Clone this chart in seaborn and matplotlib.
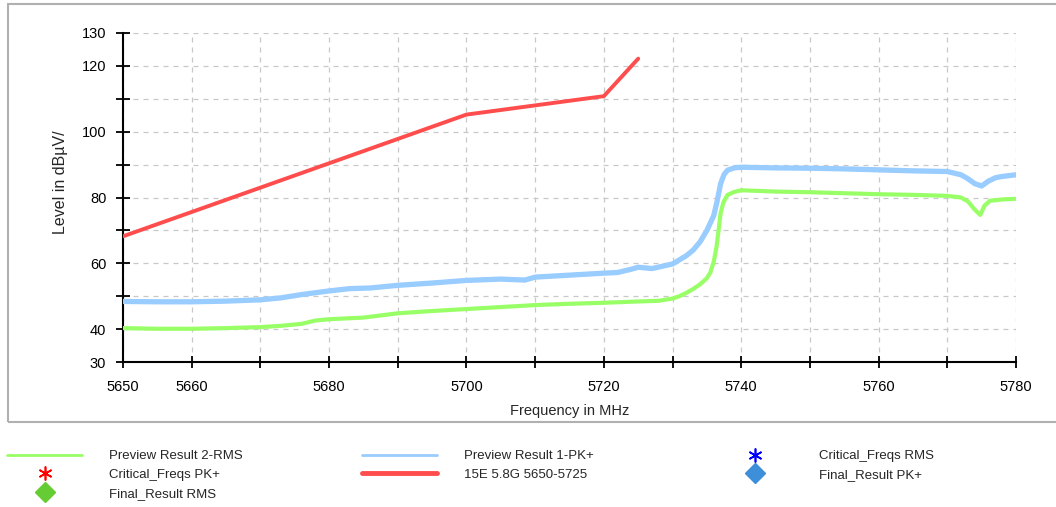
import matplotlib
matplotlib.use("Agg")
import matplotlib.pyplot as plt
from matplotlib.lines import Line2D
from matplotlib.patches import Rectangle
import pandas as pd
import seaborn as sns

# Preview Result 1-PK+ (peak detector scan)
pk_freq = [5650, 5655, 5660, 5665, 5670, 5673, 5676, 5680, 5683, 5686, 5690,
           5695, 5700, 5705, 5708.5, 5710, 5715, 5720, 5722, 5724, 5725, 5727,
           5730, 5732, 5733, 5734, 5735, 5736, 5736.5, 5737, 5737.5, 5738,
           5739, 5740, 5745, 5750, 5755, 5760, 5765, 5770, 5772, 5773, 5774,
           5775, 5776, 5777, 5778, 5780]
pk_level = [48.4, 48.3, 48.3, 48.5, 48.9, 49.5, 50.5, 51.6, 52.3, 52.5, 53.3,
            54.0, 54.8, 55.2, 54.9, 55.8, 56.4, 57.0, 57.2, 58.2, 58.8, 58.4,
            59.8, 62.3, 64.0, 66.5, 70.0, 74.5, 79.0, 84.2, 87.0, 88.3,
            89.0, 89.2, 89.0, 88.9, 88.7, 88.4, 88.1, 87.9, 86.9, 85.7, 84.2,
            83.5, 85.0, 86.0, 86.4, 86.9]

# Preview Result 2-RMS (RMS detector scan)
rms_freq = [5650, 5655, 5660, 5665, 5670, 5673, 5676, 5678, 5680, 5685, 5690,
            5695, 5700, 5705, 5710, 5715, 5720, 5725, 5728, 5730, 5731, 5732,
            5733, 5734, 5735, 5735.5, 5736, 5736.4, 5736.7, 5737, 5737.4, 5738,
            5739, 5740, 5745, 5750, 5755, 5760, 5765, 5770, 5772, 5773, 5774,
            5774.8, 5775.4, 5776.2, 5778, 5780]
rms_level = [40.3, 40.1, 40.1, 40.3, 40.6, 41.0, 41.6, 42.6, 43.0, 43.5, 44.8,
             45.5, 46.1, 46.7, 47.3, 47.7, 48.0, 48.4, 48.6, 49.3, 50.0, 51.0,
             52.2, 53.6, 55.5, 57.2, 60.5, 65.0, 70.0, 75.3, 78.5, 80.8,
             81.7, 82.2, 81.8, 81.6, 81.3, 81.0, 80.8, 80.5, 80.0, 78.8, 76.3,
             74.7, 77.5, 79.0, 79.4, 79.6]

# 15E 5.8G 5650-5725 limit line
limit_freq = [5650, 5700, 5720, 5725]
limit_level = [68.2, 105.2, 110.8, 122.2]

x_ticks = [5650, 5660, 5670, 5680, 5690, 5700, 5710, 5720, 5730, 5740,
           5750, 5760, 5770, 5780]
x_tick_labels = ["5650", "5660", "", "5680", "", "5700", "", "5720", "",
                 "5740", "", "5760", "", "5780"]
y_ticks = [30, 40, 50, 60, 70, 80, 90, 100, 110, 120, 130]
y_tick_labels = ["30", "40", "", "60", "", "80", "", "100", "", "120", "130"]

legend_labels = ["Preview Result 2-RMS", "Critical_Freqs PK+", "Final_Result RMS",
                 "Preview Result 1-PK+", "15E 5.8G 5650-5725",
                 "Critical_Freqs RMS", "Final_Result PK+"]

C_RMS = "#99ff66"
C_PK = "#99ccff"
C_LIM = "#ff4d4d"

sns.set_style("white")
plt.rcParams["font.family"] = ["Liberation Sans", "DejaVu Sans"]

W, H = 1056, 507
fig = plt.figure(figsize=(W / 100, H / 100), dpi=100)
ax = fig.add_axes([123 / W, 1 - 362 / H, (1016 - 123) / W, (362 - 33) / H])

pk_df = pd.DataFrame({"freq": pk_freq, "level": pk_level})
rms_df = pd.DataFrame({"freq": rms_freq, "level": rms_level})
lim_df = pd.DataFrame({"freq": limit_freq, "level": limit_level})

sns.lineplot(data=pk_df, x="freq", y="level", ax=ax, color=C_PK,
             linewidth=3.8, estimator=None, sort=False, zorder=3)
sns.lineplot(data=rms_df, x="freq", y="level", ax=ax, color=C_RMS,
             linewidth=3.0, estimator=None, sort=False, zorder=3)
sns.lineplot(data=lim_df, x="freq", y="level", ax=ax, color=C_LIM,
             linewidth=2.8, estimator=None, sort=False, zorder=4)

ax.set_xlim(5650, 5780)
ax.set_ylim(30, 130)
ax.set_xticks(x_ticks)
ax.set_xticklabels(x_tick_labels)
ax.set_yticks(y_ticks)
ax.set_yticklabels(y_tick_labels)

ax.grid(True, color="#c8c8c8", linestyle=(0, (4, 4)), linewidth=0.9)
ax.set_axisbelow(True)
for side in ("top", "right"):
    ax.spines[side].set_visible(False)
for side in ("left", "bottom"):
    ax.spines[side].set_color("black")
    ax.spines[side].set_linewidth(1.5)

ax.tick_params(axis="both", which="major", bottom=True, left=True,
               direction="inout", width=1.3, color="black",
               labelsize=10.5, labelcolor="black")
ax.tick_params(axis="y", length=10, pad=7)
ax.tick_params(axis="x", length=8, pad=9)

ax.set_xlabel("Frequency in MHz", fontsize=10.5, labelpad=7)
ax.set_ylabel("Level in dBµV/", fontsize=11.5)
ax.yaxis.set_label_coords(-0.0616, 0.547)

# outer frame of the chart panel
fig.patches.append(Rectangle((8 / W, 1 - 422 / H), 1.2, (422 - 4) / H,
                             transform=fig.transFigure, fill=False,
                             edgecolor="#b0b0b0", linewidth=1.5))

h_rms = Line2D([], [], color=C_RMS, linewidth=2)
h_crit_pk = Line2D([], [], color="#ff0000", marker=(6, 2, 0), markersize=10,
                   linestyle="none", markeredgewidth=1.2)
h_final_rms = Line2D([], [], color="#66cc33", marker="D", markersize=10.5,
                     linestyle="none")
h_pk = Line2D([], [], color=C_PK, linewidth=2)
h_lim = Line2D([], [], color=C_LIM, linewidth=3.5)
h_crit_rms = Line2D([], [], color="#0000ff", marker=(6, 2, 0), markersize=10,
                    linestyle="none", markeredgewidth=1.2)
h_final_pk = Line2D([], [], color="#3d8fd9", marker="D", markersize=10.5,
                    linestyle="none")

columns = [
    ([h_rms, h_crit_pk, h_final_rms], legend_labels[0:3], 7),
    ([h_pk, h_lim], legend_labels[3:5], 362),
    ([h_crit_rms, h_final_pk], legend_labels[5:7], 717),
]
for handles, labels, x0 in columns:
    fig.legend(handles, labels, loc="upper left",
               bbox_to_anchor=(x0 / W, 1 - 450 / H), frameon=False,
               fontsize=9.5, handlelength=5.7, handletextpad=2.0,
               labelspacing=0.5, borderpad=0, borderaxespad=0)

fig.savefig("out.png", dpi=100)
